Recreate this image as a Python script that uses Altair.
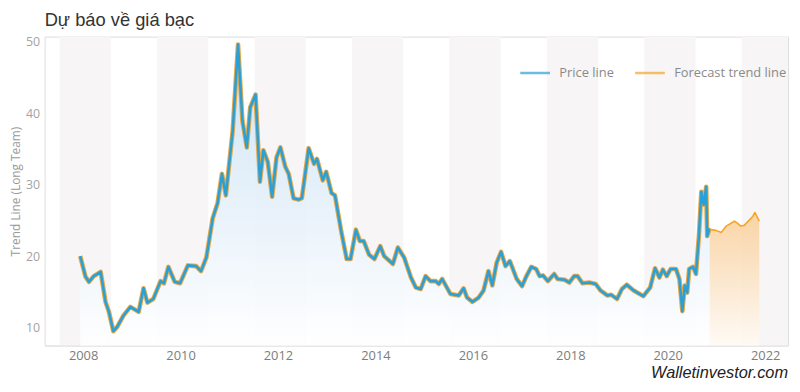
import altair as alt
import pandas as pd

# ---------------- data ----------------
price_years = [2007.94, 2008.05, 2008.12, 2008.22, 2008.36, 2008.46, 2008.53, 2008.62, 2008.70, 2008.83,
               2008.97, 2009.14, 2009.24, 2009.32, 2009.44, 2009.59, 2009.66, 2009.75, 2009.88, 2009.99,
               2010.15, 2010.32, 2010.42, 2010.53, 2010.66, 2010.76, 2010.85, 2010.93, 2011.07, 2011.18,
               2011.27, 2011.36, 2011.43, 2011.54, 2011.63, 2011.70, 2011.79, 2011.88, 2011.97, 2012.05,
               2012.15, 2012.22, 2012.32, 2012.42, 2012.49, 2012.63, 2012.74, 2012.80, 2012.92, 2012.99,
               2013.10, 2013.17, 2013.30, 2013.41, 2013.49, 2013.60, 2013.68, 2013.76, 2013.87, 2013.98,
               2014.10, 2014.18, 2014.36, 2014.46, 2014.59, 2014.73, 2014.83, 2014.93, 2015.03, 2015.13,
               2015.24, 2015.30, 2015.37, 2015.54, 2015.71, 2015.81, 2015.88, 2015.99, 2016.12, 2016.22,
               2016.32, 2016.40, 2016.49, 2016.58, 2016.67, 2016.76, 2016.90, 2017.01, 2017.10, 2017.20,
               2017.30, 2017.37, 2017.44, 2017.54, 2017.67, 2017.74, 2017.88, 2017.98, 2018.08, 2018.15,
               2018.25, 2018.39, 2018.52, 2018.62, 2018.76, 2018.84, 2018.96, 2019.06, 2019.16, 2019.30,
               2019.40, 2019.50, 2019.64, 2019.74, 2019.83, 2019.90, 2019.98, 2020.06, 2020.17, 2020.24,
               2020.30, 2020.35, 2020.40, 2020.44, 2020.52, 2020.58, 2020.64, 2020.69, 2020.74, 2020.79,
               2020.81, 2020.86]
price_values = [20.0, 17.1, 16.4, 17.2, 17.8, 13.6, 12.2, 9.5, 10.1, 11.7,
                12.9, 12.2, 15.5, 13.5, 14.0, 16.5, 16.2, 18.5, 16.4, 16.2,
                18.7, 18.6, 17.9, 19.8, 25.3, 27.4, 31.5, 28.5, 37.5, 49.6,
                38.9, 35.2, 40.8, 42.6, 30.4, 34.8, 33.2, 28.3, 33.8, 35.2,
                32.5, 31.5, 28.1, 27.9, 28.1, 35.1, 32.9, 33.6, 30.6, 31.8,
                28.8, 28.5, 23.4, 19.6, 19.6, 23.7, 22.1, 22.1, 20.2, 19.6,
                21.4, 20.0, 18.9, 21.2, 19.8, 17.0, 15.6, 15.4, 17.2, 16.5,
                16.5, 16.1, 16.8, 14.7, 14.5, 15.5, 14.2, 13.6, 14.2, 15.2,
                17.9, 15.9, 19.1, 20.6, 18.6, 19.3, 16.8, 15.8, 17.2, 18.5,
                18.2, 17.2, 17.3, 16.5, 17.5, 16.8, 16.7, 16.3, 17.2, 17.2,
                16.2, 16.3, 16.1, 15.2, 14.5, 14.6, 14.0, 15.4, 16.0, 15.2,
                14.8, 14.4, 15.6, 18.3, 17.0, 18.1, 17.2, 18.2, 18.2, 16.8,
                12.3, 15.9, 14.9, 18.2, 18.5, 17.5, 22.8, 29.0, 27.2, 29.7,
                22.8, 23.9]

forecast_years = [2020.86, 2020.89, 2020.99, 2021.10, 2021.20, 2021.30, 2021.37,
                  2021.43, 2021.50, 2021.57, 2021.67, 2021.74, 2021.79, 2021.88]
forecast_values = [23.9, 23.7, 23.6, 23.3, 24.2, 24.6, 24.9,
                   24.6, 24.2, 24.3, 25.0, 25.5, 26.1, 24.9]

band_starts = [2007.52, 2009.52, 2011.52, 2013.52, 2015.52, 2017.52, 2019.52, 2021.52]
band_ends = [2008.57, 2010.57, 2012.57, 2014.57, 2016.57, 2018.57, 2020.57, 2022.57]
x_ticks = [2008, 2010, 2012, 2014, 2016, 2018, 2020, 2022]
y_ticks = [10, 20, 30, 40, 50]
series_names = ["Price line", "Forecast trend line"]
series_colors = ["#2aa0d6", "#f5a52a"]
title_text = ["Dự báo về giá bạc"]
watermark_text = ["Walletinvestor.com"]

X_MIN, X_MAX = 2007.21, 2022.47
Y_MIN, Y_MAX = 7.5, 50.7

price = pd.DataFrame({"year": price_years, "value": price_values, "series": series_names[0]})
forecast = pd.DataFrame({"year": forecast_years, "value": forecast_values, "series": series_names[1]})
bands = pd.DataFrame({"start": band_starts, "end": band_ends})

# ---------------- scales / axes ----------------
xs = alt.Scale(domain=[X_MIN, X_MAX], nice=False, zero=False)
ys = alt.Scale(domain=[Y_MIN, Y_MAX], nice=False, zero=False)

x_axis = alt.Axis(values=x_ticks, format="d", title=None, grid=False, ticks=False,
                  domainColor="#e3e3e3", domainWidth=1, labelFont="Open Sans", labelFontSize=13,
                  labelColor="#7d7d7d", labelPadding=4)
y_axis = alt.Axis(values=y_ticks, format="d", title="Trend Line (Long Team)", grid=False,
                  ticks=False, domain=False, labelFont="Open Sans", labelFontSize=12.5,
                  labelColor="#a3a3a3", labelPadding=5, titleFont="Open Sans", titleFontSize=12,
                  titleFontWeight="normal", titleColor="#9a9a9a", titlePadding=3)

X = alt.X("year:Q", scale=xs, axis=x_axis)
Y = alt.Y("value:Q", scale=ys, axis=y_axis)

legend = alt.Legend(title=None, orient="none", legendX=479, legendY=20, direction="horizontal",
                    symbolType="stroke", symbolSize=900, symbolStrokeWidth=2.5, symbolOpacity=0.7,
                    labelFont="Open Sans", labelFontSize=13, labelColor="#8a8a8a", labelOffset=8,
                    columnPadding=15, padding=0)
C = alt.Color("series:N", scale=alt.Scale(domain=series_names, range=series_colors), legend=legend)

# ---------------- layers ----------------
band_layer = alt.Chart(bands).mark_rect(color="#f7f5f5", clip=True).encode(
    x=alt.X("start:Q", scale=xs, axis=x_axis), x2="end:Q")

blue_grad = alt.Gradient(gradient="linear", x1=1, x2=1, y1=0, y2=1,
                         stops=[alt.GradientStop(color="#c9e1f3", offset=0),
                                alt.GradientStop(color="#e6f1fa", offset=0.55),
                                alt.GradientStop(color="#ffffff", offset=1)])
orange_grad = alt.Gradient(gradient="linear", x1=1, x2=1, y1=0, y2=1,
                           stops=[alt.GradientStop(color="#f9d09c", offset=0),
                                  alt.GradientStop(color="#fbe4c8", offset=0.5),
                                  alt.GradientStop(color="#fffaf4", offset=1)])

price_area = alt.Chart(price).mark_area(color=blue_grad, opacity=0.9).encode(
    x=X, y=Y, y2=alt.datum(Y_MIN))
forecast_area = alt.Chart(forecast).mark_area(color=orange_grad, opacity=0.9).encode(
    x=X, y=Y, y2=alt.datum(Y_MIN))

price_outline = alt.Chart(price).mark_line(color="#e3a84a", strokeWidth=4.6, strokeJoin="round").encode(
    x=X, y=Y)
price_line = alt.Chart(price).mark_line(strokeWidth=2.6, strokeJoin="round").encode(x=X, y=Y, color=C)
forecast_line = alt.Chart(forecast).mark_line(strokeWidth=1.6, strokeJoin="round").encode(
    x=X, y=Y, color=C)

title_layer = alt.Chart(pd.DataFrame({"t": title_text})).mark_text(
    align="left", baseline="alphabetic", font="Liberation Sans", fontSize=18.5,
    color="#333333").encode(text="t:N", x=alt.value(0), y=alt.value(-11))

watermark = alt.Chart(pd.DataFrame({"t": watermark_text})).mark_text(
    align="right", baseline="alphabetic", font="Liberation Sans", fontStyle="italic",
    fontSize=16.5, color="#222222").encode(text="t:N", x=alt.value(751), y=alt.value(345))

chart = alt.layer(
    band_layer, price_area, forecast_area, price_outline, price_line, forecast_line,
    title_layer, watermark
).properties(
    width=751, height=312,
    padding={"left": 37, "top": 27, "right": 4, "bottom": 37},
    autosize=alt.AutoSizeParams(type="none"),
).configure_view(stroke=None).configure(background="white")

chart.save("out.html", embed_options={"renderer": "svg", "actions": False})
